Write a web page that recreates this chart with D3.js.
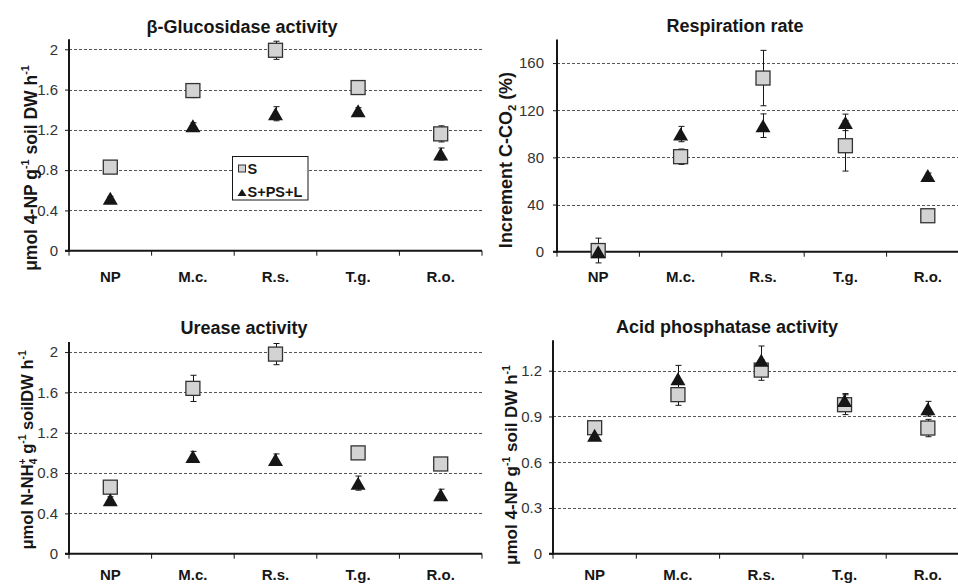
<!DOCTYPE html>
<html>
<head>
<meta charset="utf-8">
<script src="https://cdn.jsdelivr.net/npm/d3@7"></script>
<style>
  html, body { margin: 0; padding: 0; background: #fff; }
  svg { display: block; font-family: "Liberation Sans", Arial, sans-serif; }
</style>
</head>
<body>
<svg id="chart" width="958" height="584"></svg>
<script>
// ---------- data ----------
const categories = ["NP", "M.c.", "R.s.", "T.g.", "R.o."];
const seriesNames = ["S", "S+PS+L"];

// β-Glucosidase activity
const glucS    = [0.83, 1.59, 1.99, 1.62, 1.16];
const glucSerr = [0.02, 0.07, 0.09, 0.03, 0.08];
const glucT    = [0.52, 1.24, 1.36, 1.39, 0.96];
const glucTerr = [0.02, 0.03, 0.07, 0.03, 0.06];
const glucTicks = [0, 0.4, 0.8, 1.2, 1.6, 2];

// Respiration rate
const respS    = [1, 80.6, 147.3, 89.9, 30.5];
const respSerr = [10.5, 6.5, 23.5, 21.5, 2];
const respT    = [0, 99.8, 106.9, 109.7, 64.7];
const respTerr = [2, 6.5, 10, 7, 2];
const respTicks = [0, 40, 80, 120, 160];

// Urease activity
const ureS    = [0.66, 1.64, 1.98, 1.00, 0.89];
const ureSerr = [0.03, 0.13, 0.105, 0.03, 0.04];
const ureT    = [0.535, 0.965, 0.935, 0.70, 0.585];
const ureTerr = [0.03, 0.05, 0.055, 0.07, 0.055];
const ureTicks = [0, 0.4, 0.8, 1.2, 1.6, 2];

// Acid phosphatase activity
const phosS    = [0.826, 1.043, 1.204, 0.977, 0.824];
const phosSerr = [0.03, 0.07, 0.067, 0.065, 0.057];
const phosT    = [0.776, 1.148, 1.268, 1.005, 0.951];
const phosTerr = [0.02, 0.087, 0.094, 0.045, 0.048];
const phosTicks = [0, 0.3, 0.6, 0.9, 1.2];

// ---------- layout ----------
// y-label parts: [text, kind] with kind: "" normal, "sup", "sub", "stack" (superscript stacked over previous subscript)
const panels = [
  { title: "β-Glucosidase activity", tx: 242, ty: 33,
    x0: 69, x1: 482, yTop: 39.2, yBot: 250.7, yMax: 2.1, ticks: glucTicks, tickGap: 11,
    S: glucS, Se: glucSerr, T: glucT, Te: glucTerr, xLabY: 281.5,
    ylab: { x: 36.5, y: 168, size: 17.5, parts: [["μmol 4-NP g", ""], ["-1", "sup"], [" soil DW h", ""], ["-1", "sup"]] },
    legend: true },
  { title: "Respiration rate", tx: 735, ty: 32,
    x0: 557, x1: 969, yTop: 39.5, yBot: 251.7, yMax: 180, ticks: respTicks, tickGap: 13,
    S: respS, Se: respSerr, T: respT, Te: respTerr, xLabY: 281.5,
    ylab: { x: 512, y: 160, size: 18, parts: [["Increment C-CO", ""], ["2", "sub"], [" (%)", ""]] } },
  { title: "Urease activity", tx: 244, ty: 334,
    x0: 69, x1: 482, yTop: 342, yBot: 553.7, yMax: 2.1, ticks: ureTicks, tickGap: 11,
    S: ureS, Se: ureSerr, T: ureT, Te: ureTerr, xLabY: 580,
    ylab: { x: 33, y: 450, size: 16.5, parts: [["μmol N-NH", ""], ["4", "sub"], ["+", "stack"], [" g", ""], ["-1", "sup"], [" soilDW h", ""], ["-1", "sup"]] } },
  { title: "Acid phosphatase activity", tx: 727, ty: 333,
    x0: 553, x1: 969.5, yTop: 340.2, yBot: 553.7, yMax: 1.4, ticks: phosTicks, tickGap: 11,
    S: phosS, Se: phosSerr, T: phosT, Te: phosTerr, xLabY: 580,
    ylab: { x: 517, y: 465, size: 17, parts: [["μmol 4-NP g", ""], ["-1", "sup"], [" soil DW h", ""], ["-1", "sup"]] } }
];

const svg = d3.select("#chart");
const ink = "#161616";
const sqFill = "#d3d3d3";
const fmt = d => String(+d.toFixed(1));

const triPath = (w, h) => `M0,${-h/2}L${w/2},${h/2}L${-w/2},${h/2}Z`;

panels.forEach(p => {
  const g = svg.append("g");
  const x = d3.scaleBand().domain(categories).range([p.x0, p.x1]).padding(0);
  const y = d3.scaleLinear().domain([0, p.yMax]).range([p.yBot, p.yTop]);
  const cx = c => x(c) + x.bandwidth() / 2;

  // gridlines
  g.selectAll(".grid").data(p.ticks.filter(t => t > 0)).join("line")
    .attr("x1", p.x0).attr("x2", p.x1)
    .attr("y1", d => Math.round(y(d)) + 0.5).attr("y2", d => Math.round(y(d)) + 0.5)
    .attr("stroke", "#555").attr("stroke-width", 1).attr("stroke-dasharray", "3,2");

  // y axis
  const yAxis = d3.axisLeft(y).tickValues(p.ticks).tickSize(4).tickFormat(fmt);
  const ya = g.append("g").attr("transform", `translate(${p.x0},0)`).call(yAxis);
  ya.select(".domain").remove();
  ya.selectAll(".tick line").attr("stroke", ink);
  ya.selectAll(".tick text").attr("x", -p.tickGap).attr("fill", "#333")
    .style("font-size", "15px").style("font-family", "Liberation Sans, Arial, sans-serif");
  g.append("line").attr("x1", p.x0).attr("x2", p.x0).attr("y1", p.yTop).attr("y2", p.yBot + 1)
    .attr("stroke", ink).attr("stroke-width", 2);

  // x axis
  g.append("line").attr("x1", p.x0 - 4).attr("x2", p.x1).attr("y1", p.yBot).attr("y2", p.yBot)
    .attr("stroke", ink).attr("stroke-width", 2);
  const bounds = categories.map(c => x(c)).concat([p.x1]);
  g.selectAll(".xt").data(bounds).join("line")
    .attr("x1", d => d).attr("x2", d => d)
    .attr("y1", p.yBot).attr("y2", p.yBot + 5)
    .attr("stroke", ink).attr("stroke-width", 1);
  g.selectAll(".xl").data(categories).join("text")
    .attr("x", cx).attr("y", p.xLabY).attr("text-anchor", "middle")
    .attr("fill", ink).style("font-size", "15px").style("font-weight", "bold")
    .text(d => d);

  // title
  g.append("text").attr("x", p.tx).attr("y", p.ty).attr("text-anchor", "middle")
    .attr("fill", ink).style("font-size", "18px").style("font-weight", "bold").text(p.title);

  // y label (rotated) with super/subscripts
  const fs = p.ylab.size;
  const small = fs * 0.62;
  const yl = g.append("text").attr("text-anchor", "middle")
    .attr("transform", `translate(${p.ylab.x},${p.ylab.y}) rotate(-90)`)
    .attr("fill", ink).style("font-size", fs + "px").style("font-weight", "bold");
  let cur = 0;
  p.ylab.parts.forEach(([txt, kind]) => {
    let target = 0, dx = 0, size = null;
    if (kind === "sup") { target = -fs * 0.42; size = small; }
    else if (kind === "sub") { target = fs * 0.22; size = small; }
    else if (kind === "stack") { target = -fs * 0.44; size = small; dx = -small * 0.56; }
    const t = yl.append("tspan").text(txt);
    if (size) t.style("font-size", size + "px");
    if (target - cur !== 0) t.attr("dy", target - cur);
    if (dx) t.attr("dx", dx);
    cur = target;
  });

  // legend
  if (p.legend) {
    const lg = g.append("g");
    lg.append("rect").attr("x", 232.5).attr("y", 156.5).attr("width", 75.5).attr("height", 43.5)
      .attr("fill", "#fff").attr("stroke", ink).attr("stroke-width", 1);
    lg.append("rect").attr("x", 238.5).attr("y", 165).attr("width", 7).attr("height", 7)
      .attr("fill", sqFill).attr("stroke", "#333").attr("stroke-width", 1);
    lg.append("text").attr("x", 247.5).attr("y", 173.5).attr("fill", ink)
      .style("font-size", "14.5px").style("font-weight", "bold").text(seriesNames[0]);
    lg.append("path").attr("d", triPath(9, 7)).attr("transform", "translate(242,192.5)").attr("fill", ink);
    lg.append("text").attr("x", 247.5).attr("y", 196.5).attr("fill", ink)
      .style("font-size", "14.5px").style("font-weight", "bold").text(seriesNames[1]);
  }

  // error bars
  const drawErr = (vals, errs) => {
    const eg = g.append("g").attr("stroke", ink).attr("stroke-width", 1);
    categories.forEach((c, i) => {
      const xc = Math.round(cx(c)) + 0.5;
      const yHi = y(vals[i] + errs[i]), yLo = y(vals[i] - errs[i]);
      eg.append("line").attr("x1", xc).attr("x2", xc).attr("y1", yHi).attr("y2", yLo);
      eg.append("line").attr("x1", xc - 3).attr("x2", xc + 3).attr("y1", yHi).attr("y2", yHi);
      eg.append("line").attr("x1", xc - 3).attr("x2", xc + 3).attr("y1", yLo).attr("y2", yLo);
    });
  };
  drawErr(p.S, p.Se);
  drawErr(p.T, p.Te);

  // squares (S)
  const sq = 14;
  g.selectAll(".sq").data(p.S).join("rect")
    .attr("x", (d, i) => cx(categories[i]) - sq / 2)
    .attr("y", d => y(d) - sq / 2)
    .attr("width", sq).attr("height", sq)
    .attr("fill", sqFill).attr("stroke", "#333").attr("stroke-width", 1.3);

  // triangles (S+PS+L)
  g.selectAll(".tri").data(p.T).join("path")
    .attr("d", triPath(15, 13))
    .attr("transform", (d, i) => `translate(${cx(categories[i])},${y(d)})`)
    .attr("fill", ink);
});
</script>
</body>
</html>
